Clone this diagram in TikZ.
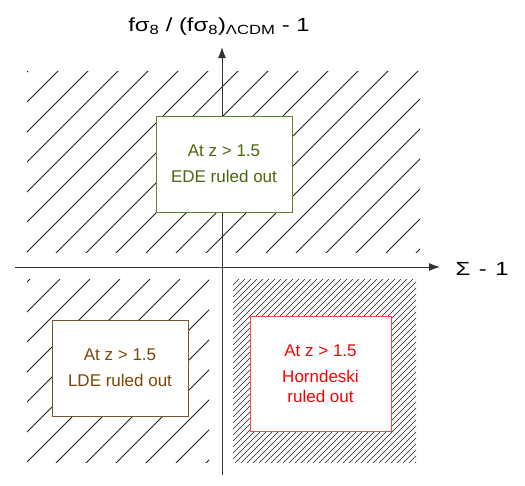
\documentclass[tikz,border=0pt]{standalone}
\usepackage{fontspec}
\setmainfont{Liberation Sans}
\newfontfamily\axislabelfont[FakeStretch=1.25]{Liberation Sans}
\usetikzlibrary{arrows.meta}
\definecolor{edeborder}{RGB}{95,130,45}
\definecolor{edetext}{RGB}{75,105,10}
\definecolor{ldeborder}{RGB}{120,85,50}
\definecolor{ldetext}{RGB}{125,70,5}
\definecolor{hornborder}{RGB}{255,70,70}
\definecolor{horntext}{RGB}{255,0,0}
\definecolor{hatchcol}{RGB}{30,30,30}
\tikzset{
  hatchline/.style={draw=hatchcol, line width=0.8pt},
  axisline/.style={draw=black!80, line width=0.9pt},
  axislabel/.style={anchor=base, font=\axislabelfont\fontsize{19}{22}\selectfont, inner sep=0pt},
  infobox/.style={draw, line width=1pt, fill=white, align=center,
    font=\fontsize{17}{20}\selectfont, inner sep=0pt},
}
\begin{document}
\begin{tikzpicture}[x=1pt,y=-1pt]
\useasboundingbox (0,0) rectangle (525,485);
% top hatched region
\begin{scope}
  \clip (27,71) rectangle (420,252);
  \foreach \k in {-2,...,19} {
    \pgfmathsetmacro{\c}{129+30*\k}
    \draw[hatchline] (\c-71,71) -- ++(-200,200);
    \draw[hatchline] (\c-71,71) -- ++(200,-200);
  }
\end{scope}
% bottom left hatched region
\begin{scope}
  \clip (27,279) rectangle (209,462);
  \foreach \k in {6,...,19} {
    \pgfmathsetmacro{\c}{129+30*\k}
    \draw[hatchline] (\c-279,279) -- ++(-200,200);
  }
\end{scope}
% bottom right dense hatched region
\begin{scope}
  \clip (233,279) rectangle (416,462);
  \foreach \k in {0,...,62} {
    \pgfmathsetmacro{\c}{512+6*\k}
    \draw[hatchline, line width=0.65pt] (\c-279,279) -- ++(-200,200);
  }
\end{scope}
% axes
\coordinate (ybot) at (222,475);
\coordinate (ytop) at (222,47);
\coordinate (xleft) at (15,267);
\coordinate (xright) at (440,267);
\draw[axisline, -{Latex[length=11pt,width=8pt]}] (ybot) -- (ytop);
\draw[axisline, -{Latex[length=11pt,width=8pt]}] (xleft) -- (xright);
\node[axislabel] (ylabel) at (219,31)
  {fσ\textsubscript{8} / (fσ\textsubscript{8})\textsubscript{ΛCDM} - 1};
\node[axislabel] (xlabel) at (482,275) {Σ\hspace{2pt} - \hspace{2pt}1};
% boxes
\node[infobox, draw=edeborder, text=edetext, minimum width=136pt, minimum height=96pt] (ede) at (224,164)
  {At z > 1.5\\[6pt]EDE ruled out};
\node[infobox, draw=ldeborder, text=ldetext, minimum width=136pt, minimum height=96pt] (lde) at (120,368)
  {At z > 1.5\\[6pt]LDE ruled out};
\node[infobox, draw=hornborder, text=horntext, minimum width=141pt, minimum height=115pt] (horn) at (320.5,373.5)
  {At z > 1.5\\[6pt]Horndeski\\ruled out};
\end{tikzpicture}
\end{document}
